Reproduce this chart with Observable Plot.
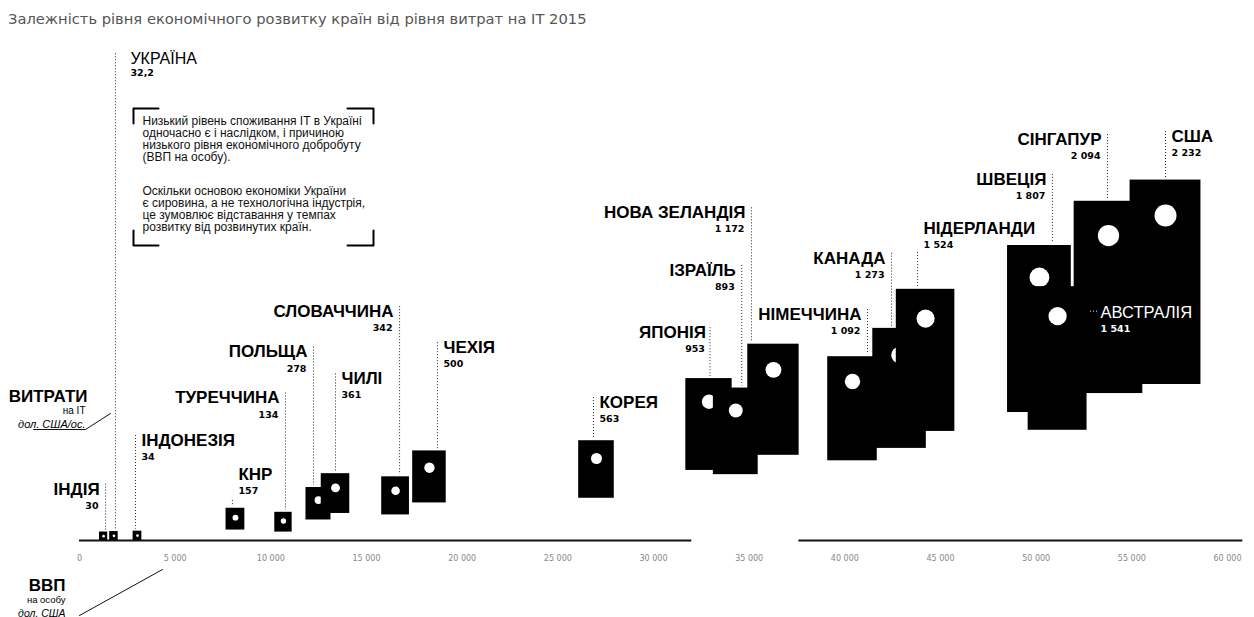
<!DOCTYPE html>
<html><head><meta charset="utf-8">
<script src="https://cdn.jsdelivr.net/npm/d3@7"></script>
<script src="https://cdn.jsdelivr.net/npm/@observablehq/plot@0.6"></script>
<style>
html,body{margin:0;padding:0;background:#fff;}
#title{height:36px;line-height:38px;padding-left:8px;font-family:"DejaVu Sans",sans-serif;font-size:14.7px;color:#555;white-space:nowrap;}
#chart svg{display:block;}
</style></head><body>
<div id="title">Залежність рівня економічного розвитку країн від рівня витрат на IT 2015</div>
<div id="chart"></div>
<script>
// ---- data ----
const countries = ["ІНДІЯ","УКРАЇНА","ІНДОНЕЗІЯ","КНР","ТУРЕЧЧИНА","ПОЛЬЩА","ЧИЛІ","СЛОВАЧЧИНА","ЧЕХІЯ","КОРЕЯ","ЯПОНІЯ","ІЗРАЇЛЬ","НОВА ЗЕЛАНДІЯ","НІМЕЧЧИНА","КАНАДА","НІДЕРЛАНДИ","ШВЕЦІЯ","АВСТРАЛІЯ","СІНГАПУР","США"];
const gdpPerCapita = [1260,1800,3030,8150,10660,12490,13380,16520,18290,27020,32900,34300,36270,40400,42860,44220,50170,51120,53780,56760];
const itSpendPerCapita = [30,32.2,34,157,134,278,361,342,500,563,953,893,1172,1092,1273,1524,1807,1541,2094,2232];
const xTicks = [0,5000,10000,15000,20000,25000,30000,35000,40000,45000,50000,55000,60000];
const xTickLabels = ["0","5 000","10 000","15 000","20 000","25 000","30 000","35 000","40 000","45 000","50 000","55 000","60 000"];
const noteParagraphs = [
  "Низький рівень споживання IT в Україні\nодночасно є і наслідком, і причиною\nнизького рівня економічного добробуту\n(ВВП на особу).",
  "Оскільки основою економіки України\nє сировина, а не технологічна індустрія,\nце зумовлює відставання у темпах\nрозвитку від розвинутих країн."
];

// ---- layout (label placement, px offsets from each point) ----
const labelLayout = {
  "ІНДІЯ":        {side:"left",  dx:2,   lift:47},
  "УКРАЇНА":      {side:"right", dx:1.5, lift:477, gap:15, light:true},
  "ІНДОНЕЗІЯ":    {side:"right", dx:-2,  lift:95},
  "КНР":          {side:"right", dx:-3,  lift:43, lead:26},
  "ТУРЕЧЧИНА":    {side:"left",  dx:2,   lift:123},
  "ПОЛЬЩА":       {side:"left",  dx:-5,  lift:148},
  "ЧИЛІ":         {side:"right", dx:0,   lift:109},
  "СЛОВАЧЧИНА":   {side:"left",  dx:4,   lift:179},
  "ЧЕХІЯ":        {side:"right", dx:8,   lift:120},
  "КОРЕЯ":        {side:"right", dx:-3,  lift:56},
  "ЯПОНІЯ":       {side:"left",  dx:1,   lift:69, gap:4},
  "ІЗРАЇЛЬ":      {side:"left",  dx:6,   lift:140},
  "НОВА ЗЕЛАНДІЯ":{side:"left",  dx:-22, lift:157},
  "НІМЕЧЧИНА":    {side:"left",  dx:15,  lift:67},
  "КАНАДА":       {side:"left",  dx:-8,  lift:97},
  "НІДЕРЛАНДИ":   {side:"right", dx:-8,  lift:90, lead:24},
  "ШВЕЦІЯ":       {side:"left",  dx:13,  lift:98},
  "АВСТРАЛІЯ":    {side:"inside",dx:43,  lift:3},
  "СІНГАПУР":     {side:"left",  dx:-1,  lift:96},
  "США":          {side:"right", dx:0,   lift:79}
};

const W = 1254, H = 581, TOP = 36;
const xDomain = [0, 60000], xRange = [79, 1227];
const yDomain = [0, 2232], yRange = [540 - TOP, 215 - TOP];
const xs = d3.scaleLinear(xDomain, xRange);
const ys = d3.scaleLinear(yDomain, yRange);
const fmt = d3.formatLocale({decimal:",", thousands:" ", grouping:[3], currency:["",""]}).format(",");

const rows = countries.map((name, i) => ({name, gdp: gdpPerCapita[i], it: itSpendPerCapita[i]}));

const NAME_FONT = "Liberation Sans, Arial, sans-serif";
const NUM_FONT = "DejaVu Sans, sans-serif";

function geom(d) {
  const X = xs(d.gdp), Y = ys(d.it);
  const w = 1.5 * Math.sqrt(d.it);
  const h = 0.088 * d.it + 8;
  const topPx = Y - w / 2;
  return {
    x1: xs.invert(X - w / 2), x2: xs.invert(X + w / 2),
    y2: ys.invert(topPx), y1: Math.max(0, ys.invert(topPx + h)),
    r: 0.155 * w, topPx, Y
  };
}

const countryMarks = rows.flatMap(d => {
  const g = geom(d);
  return [
    Plot.rect([d], {x1: () => g.x1, x2: () => g.x2, y1: () => g.y1, y2: () => g.y2, fill: "#000"}),
    Plot.dot([d], {x: "gdp", y: "it", r: g.r, fill: "#fff", stroke: null})
  ];
});

const labelMarks = rows.flatMap(d => {
  const L = labelLayout[d.name];
  const g = geom(d);
  const marks = [];
  if (L.side === "inside") {
    marks.push(Plot.text([d], {x: "gdp", y: "it", text: "name", dx: L.dx, dy: -L.lift, textAnchor: "start",
      fontSize: 16.5, fontFamily: NAME_FONT, fill: "#fff"}));
    marks.push(Plot.text([d], {x: "gdp", y: "it", text: r => fmt(r.it), dx: L.dx, dy: -L.lift + 16, textAnchor: "start",
      fontSize: 9.5, fontWeight: "bold", fontFamily: NUM_FONT, fill: "#fff"}));
    marks.push(Plot.ruleY([d], {y: "it", x1: r => xs.invert(xs(r.gdp) + L.dx - 10), x2: r => xs.invert(xs(r.gdp) + L.dx - 2),
      dy: -L.lift - 2, stroke: "#fff", strokeWidth: 1, strokeDasharray: "1,2"}));
    return marks;
  }
  const left = L.side === "left";
  const gap = L.gap ?? 6;
  const nameY = g.Y - L.lift;
  const leadTop = nameY + (L.lead ?? -5);
  marks.push(Plot.ruleX([d], {x: "gdp", y1: () => ys.invert(leadTop), y2: () => ys.invert(g.topPx - 2), dx: L.dx,
    stroke: "#222", strokeWidth: 1, strokeDasharray: "1,2"}));
  marks.push(Plot.text([d], {x: "gdp", y: "it", text: "name", dx: L.dx + (left ? -gap : gap), dy: -L.lift,
    textAnchor: left ? "end" : "start", fontSize: L.light ? 16 : 17, fontWeight: L.light ? "normal" : "bold",
    fontFamily: NAME_FONT, fill: "#000"}));
  marks.push(Plot.text([d], {x: "gdp", y: "it", text: r => fmt(r.it), dx: L.dx + (left ? -gap - 1 : gap), dy: -L.lift + (L.light ? 14 : 16.5),
    textAnchor: left ? "end" : "start", fontSize: 9.5, fontWeight: "bold", fontFamily: NUM_FONT, fill: "#000"}));
  return marks;
});

// annotation helpers (page px -> data units)
const P = ([px, py]) => ({x: xs.invert(px), y: ys.invert(py - TOP)});
const brackets = [
  [[133,123],[133,108],[158,108]],
  [[347,108],[373,108],[373,123]],
  [[133,230],[133,245],[158,245]],
  [[347,245],[373,245],[373,230]]
].flatMap((pts, k) => pts.map(p => ({...P(p), k})));
const pointers = [
  [[33,429],[85,429],[110,413]],
  [[79,615],[162,569]]
].flatMap((pts, k) => pts.map(p => ({...P(p), k})));

const annot = (text, dx, dy, opts) => Plot.text([text], {text: d => d, frameAnchor: "top-left", dx, dy: dy - TOP, ...opts});
const NOTE = {textAnchor: "start", lineAnchor: "top", lineHeight: 1, fontSize: 12, fontFamily: NAME_FONT, fill: "#111"};

const chart = Plot.plot({
  width: W, height: H,
  marginLeft: 0, marginRight: 0, marginTop: 0, marginBottom: 65,
  x: {domain: xDomain, range: xRange, label: null},
  y: {domain: yDomain, range: yRange, axis: null, label: null},
  style: {fontFamily: NAME_FONT, background: "#fff", overflow: "visible"},
  marks: [
    Plot.axisX({ticks: xTicks, tickFormat: d => xTickLabels[xTicks.indexOf(d)], tickSize: 0, tickPadding: 3,
      fontSize: 8, fill: "#888", fontFamily: NUM_FONT, label: null}),
    ...countryMarks,
    Plot.ruleY([0, 0], {x1: [0, 37600], x2: [32000, 60800], stroke: "#111", strokeWidth: 2}),
    ...labelMarks,
    // note box
    Plot.line(brackets, {x: "x", y: "y", z: "k", stroke: "#000", strokeWidth: 2}),
    annot(noteParagraphs[0], 142, 116, NOTE),
    annot(noteParagraphs[1], 142, 186, NOTE),
    // axis captions
    Plot.line(pointers, {x: "x", y: "y", z: "k", stroke: "#111", strokeWidth: 1}),
    annot("ВИТРАТИ", 87, 389, {textAnchor: "end", fontSize: 17, fontWeight: "bold", fill: "#000"}),
    annot("на IT", 85, 406, {textAnchor: "end", fontSize: 10, fill: "#000"}),
    annot("дол. США/ос.", 85, 420, {textAnchor: "end", fontSize: 11, fontStyle: "italic", fill: "#000"}),
    annot("ВВП", 65, 578, {textAnchor: "end", fontSize: 17, fontWeight: "bold", fill: "#000"}),
    annot("на особу", 65, 596, {textAnchor: "end", fontSize: 9.5, fill: "#000"}),
    annot("дол. США", 65, 609, {textAnchor: "end", fontSize: 10.5, fontStyle: "italic", fill: "#000"})
  ]
});
document.getElementById("chart").appendChild(chart);
</script>
</body></html>
